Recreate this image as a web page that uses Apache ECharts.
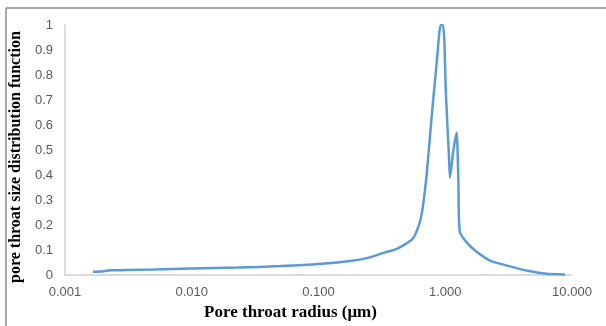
<!DOCTYPE html>
<html>
<head>
<meta charset="utf-8">
<script src="https://cdn.jsdelivr.net/npm/echarts@6/dist/echarts.min.js"></script>
<style>
  html, body { margin: 0; padding: 0; background: #fff; }
  #main { width: 606px; height: 326px; }
</style>
</head>
<body>
<div id="main"></div>
<script>
// pore throat radius (µm) and distribution values
var radius = [0.00166, 0.0019, 0.0023, 0.003, 0.005, 0.01, 0.023, 0.05, 0.1, 0.19, 0.25, 0.33,
              0.415, 0.55, 0.62, 0.66, 0.716, 0.78, 0.86, 0.92, 0.96, 0.985, 1.01, 1.07, 1.09,
              1.16, 1.23, 1.27, 1.30, 1.48, 1.77, 2.25, 3.24, 4.6, 6.3, 8.8];
var psd = [0.013, 0.014, 0.019, 0.020, 0.022, 0.026, 0.030, 0.036, 0.044, 0.058, 0.070, 0.090,
           0.105, 0.144, 0.20, 0.26, 0.41, 0.63, 0.86, 1.0, 1.0, 0.93, 0.735, 0.475, 0.39,
           0.50, 0.57, 0.37, 0.175, 0.13, 0.093, 0.058, 0.035, 0.016, 0.005, 0.002];
var xTicks = [0.001, 0.01, 0.1, 1, 10];

var points = radius.map(function (r, i) { return [r, psd[i]]; });

var myChart = echarts.init(document.getElementById('main'));
var option = {
    animation: false,
    backgroundColor: '#fff',
    grid: { left: 64, right: 34, top: 25, bottom: 44 },
    graphic: [
        { type: 'line', shape: { x1: 6, y1: 8, x2: 606, y2: 8 }, style: { stroke: '#a3a3a3', lineWidth: 2 } },
        { type: 'line', shape: { x1: 6, y1: 8, x2: 6, y2: 326 }, style: { stroke: '#8c8c8c', lineWidth: 1.5 } }
    ],
    xAxis: {
        type: 'log',
        logBase: 10,
        min: xTicks[0],
        max: xTicks[xTicks.length - 1],
        name: 'Pore throat radius (\u03bcm)',
        nameLocation: 'middle',
        nameGap: 22,
        nameTextStyle: {
            fontFamily: 'Liberation Serif', fontWeight: 'bold', fontSize: 17, color: '#000',
            padding: [0, 56, 0, 0]
        },
        axisLine: { lineStyle: { color: '#d0d0d0', width: 1.5 } },
        axisTick: { show: false },
        splitLine: { show: false },
        axisLabel: {
            fontFamily: 'Liberation Sans', fontSize: 13, color: '#595959', margin: 11,
            formatter: function (v) { return v.toFixed(3); }
        }
    },
    yAxis: {
        type: 'value',
        min: 0,
        max: 1,
        interval: 0.1,
        name: 'pore throat size distribution function',
        nameLocation: 'middle',
        nameGap: 33,
        nameTextStyle: {
            fontFamily: 'Liberation Serif', fontWeight: 'bold', fontSize: 16, color: '#000',
            padding: [0, 14, 0, 0]
        },
        axisLine: { show: true, lineStyle: { color: '#d0d0d0', width: 1.5 } },
        axisTick: { show: false },
        splitLine: { show: false },
        axisLabel: {
            fontFamily: 'Liberation Sans', fontSize: 13, color: '#595959', margin: 12,
            formatter: function (v) { return String(Math.round(v * 10) / 10); }
        }
    },
    series: [{
        type: 'line',
        data: points,
        smooth: 0.2,
        symbol: 'none',
        lineStyle: { color: '#5b9bd5', width: 2.5 }
    }]
};
myChart.setOption(option);
</script>
</body>
</html>
